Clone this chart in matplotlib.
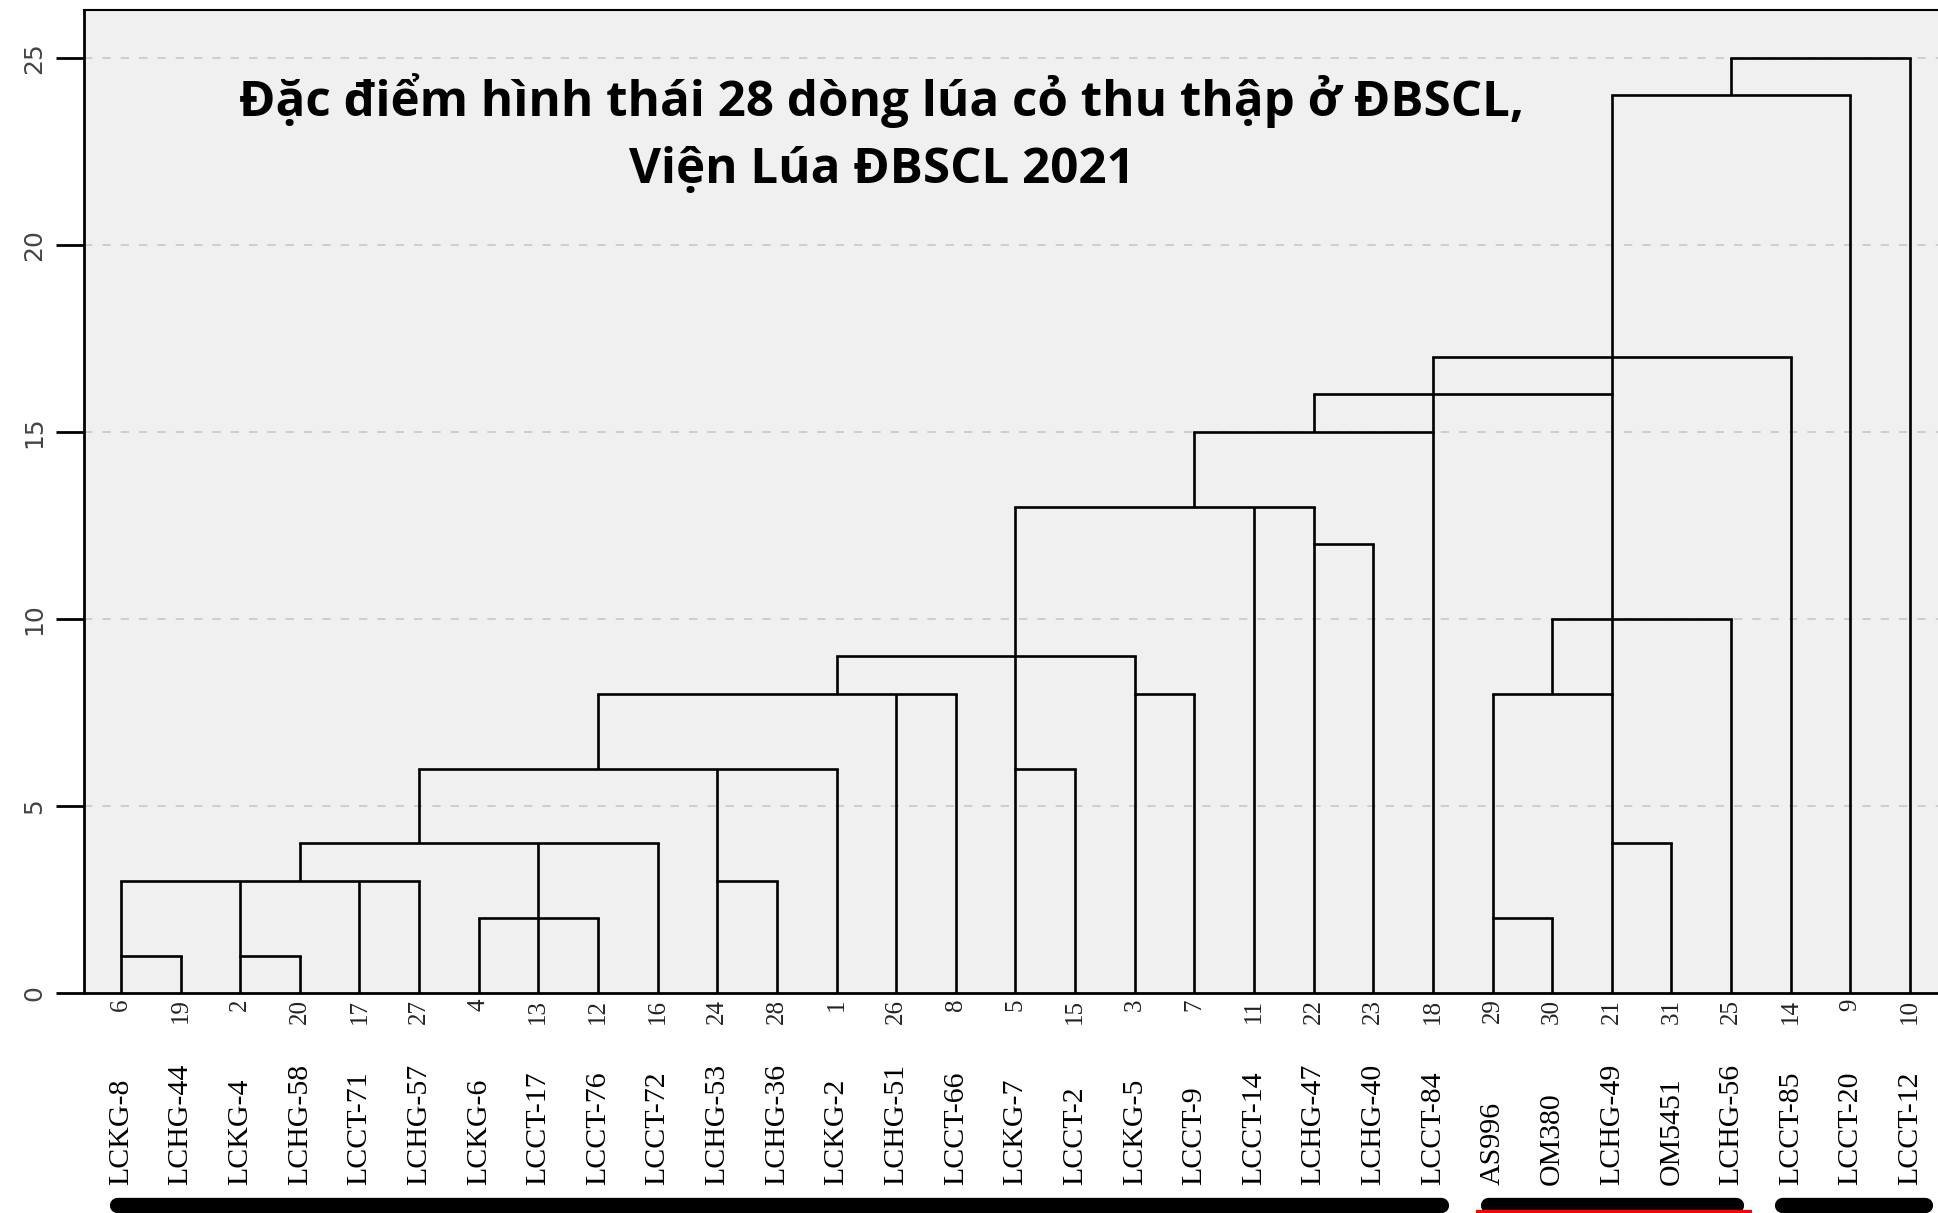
import matplotlib
matplotlib.use("Agg")
import matplotlib.pyplot as plt
import matplotlib.transforms as mtransforms

# thứ tự các lá trên dendrogram (số thứ tự mẫu) và tên dòng lúa
leaf_ids = [6, 19, 2, 20, 17, 27, 4, 13, 12, 16, 24, 28, 1, 26, 8, 5, 15, 3, 7,
            11, 22, 23, 18, 29, 30, 21, 31, 25, 14, 9, 10]
leaf_names = ["LCKG-8", "LCHG-44", "LCKG-4", "LCHG-58", "LCCT-71", "LCHG-57",
              "LCKG-6", "LCCT-17", "LCCT-76", "LCCT-72", "LCHG-53", "LCHG-36",
              "LCKG-2", "LCHG-51", "LCCT-66", "LCKG-7", "LCCT-2", "LCKG-5",
              "LCCT-9", "LCCT-14", "LCHG-47", "LCHG-40", "LCCT-84", "AS996",
              "OM380", "LCHG-49", "OM5451", "LCHG-56", "LCCT-85", "LCCT-20",
              "LCCT-12"]

# các lần gộp: (khoảng cách gộp, [(vị trí lá, chân nhánh), ...])
merge_heights = [1, 1, 2, 3, 2, 4, 3, 4, 6, 6, 8, 8, 8, 9, 10, 12, 13, 15, 16, 17, 24, 25]
merge_members = [
    [(0, 0), (1, 0)],
    [(2, 0), (3, 0)],
    [(6, 0), (7, 0), (8, 0)],
    [(10, 0), (11, 0)],
    [(23, 0), (24, 0)],
    [(25, 0), (26, 0)],
    [(0, 1), (2, 1), (4, 0), (5, 0)],
    [(3, 3), (7, 2), (9, 0)],
    [(15, 0), (16, 0)],
    [(5, 4), (10, 3), (12, 0)],
    [(8, 6), (13, 0), (14, 0)],
    [(17, 0), (18, 0)],
    [(23, 2), (25, 4)],
    [(12, 8), (17, 8)],
    [(24, 8), (27, 0)],
    [(20, 0), (21, 0)],
    [(15, 6), (19, 0), (20, 12)],
    [(18, 13), (22, 0)],
    [(20, 15), (25, 8)],
    [(22, 15), (28, 0)],
    [(25, 16), (29, 0)],
    [(27, 24), (30, 0)],
]

# các nhóm gạch chân bên dưới (khoảng theo vị trí lá)
group_spans = [(-0.07, 22.13), (22.93, 27.09), (27.86, 30.25)]
red_span = (22.73, 27.35)

y_ticks = [0, 5, 10, 15, 20, 25]

fig = plt.figure(figsize=(19.38, 12.13), dpi=100)
ax = fig.add_axes([0.0433, 0.1814, 0.9567, 0.8104])
ax.set_facecolor("#f0f0f0")

for h, members in zip(merge_heights, merge_members):
    xs = [m[0] for m in members]
    ax.plot([min(xs), max(xs)], [h, h], color="black", lw=1.9, solid_capstyle="projecting")
    for x, y0 in members:
        ax.plot([x, x], [y0, h], color="black", lw=1.9, solid_capstyle="butt")

ax.set_xlim(-0.62, 30.47)
ax.set_ylim(0, 26.28)

for t in y_ticks[1:]:
    ax.axhline(t, color="#c8c8c8", lw=1.2, linestyle=(0, (5, 6)), zorder=0)

ax.set_yticks(y_ticks)
ax.set_yticklabels([str(t) for t in y_ticks], rotation=90, va="center",
                   fontsize=18, color="#444444", family="DejaVu Sans")
ax.tick_params(axis="y", length=20, width=2, pad=7, color="black")

ax.set_xticks(range(len(leaf_ids)))
ax.set_xticklabels([str(i) for i in leaf_ids], rotation=90, va="top",
                   fontsize=18, color="#222222", family="Liberation Serif")
ax.tick_params(axis="x", length=0, pad=4)

ax.spines["left"].set_linewidth(2)
ax.spines["top"].set_linewidth(1.5)
ax.spines["bottom"].set_linewidth(2)
ax.spines["right"].set_visible(False)

trans = mtransforms.blended_transform_factory(ax.transData, ax.transAxes)
for i, name in enumerate(leaf_names):
    ax.text(i, -0.1953, name, rotation=90, ha="center", va="bottom",
            fontsize=21.5, family="Liberation Serif", transform=trans, clip_on=False)

for x0, x1 in group_spans:
    ax.plot([x0, x1], [-0.2152, -0.2152], color="black", lw=11,
            solid_capstyle="round", transform=trans, clip_on=False)
ax.plot(list(red_span), [-0.2225, -0.2225], color="red", lw=3,
        solid_capstyle="butt", transform=trans, clip_on=False)

fig.text(0.455, 0.8895, "Đặc điểm hình thái 28 dòng lúa cỏ thu thập ở ĐBSCL,\nViện Lúa ĐBSCL 2021",
         ha="center", va="center", fontsize=35.5, fontweight="bold",
         family="Open Sans", linespacing=1.5)

fig.savefig("out.png", dpi=100)
plt.close(fig)
